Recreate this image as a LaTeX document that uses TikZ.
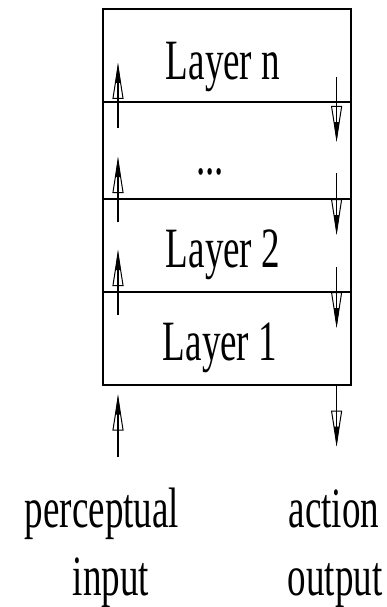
\documentclass[tikz,border=0pt]{standalone}
\usepackage{fontspec}
\setmainfont{Liberation Serif}
\usetikzlibrary{arrows.meta,calc}
\newcommand{\narrowtxt}[1]{\scalebox{0.65}[1]{#1}}
\begin{document}
\begin{tikzpicture}[x=1pt,y=-1pt,
  layerbox/.style={draw,line width=1.6pt,minimum width=248pt,inner sep=0pt,anchor=north west},
  lbl/.style={font=\fontsize{57}{60}\selectfont,inner sep=0pt,anchor=base},
  flow/.style={line width=1.2pt,-{Triangle[open,length=36pt,width=11pt,line width=1pt]},
    postaction={draw,line width=1.2pt,-{Triangle[length=20pt,width=5pt]}}}]
\useasboundingbox (0,0) rectangle (387,607);
% layers
\node[layerbox,minimum height=93pt] (ln) at (102,8) {};
\node[layerbox,minimum height=97pt] (dt) at (102,101) {};
\node[layerbox,minimum height=93pt] (l2) at (102,198) {};
\node[layerbox,minimum height=93pt] (l1) at (102,291) {};
% labels
\node[lbl] (tn) at (223,80) {\narrowtxt{Layer n}};
\node[lbl] (td) at (210,174) {\narrowtxt{...}};
\node[lbl] (t2) at (223,267) {\narrowtxt{Layer 2}};
\node[lbl] (t1) at (220,360) {\narrowtxt{Layer 1}};
\node[lbl] (perc) at (102,527) {\narrowtxt{perceptual}};
\node[lbl] (inp) at (111,595) {\narrowtxt{input}};
\node[lbl] (act) at (334,527) {\narrowtxt{action}};
\node[lbl] (outp) at (335,595) {\narrowtxt{output}};
% upward arrows (left)
\draw[flow] ($(l1.south west)+(16,71)$) -- ($(l1.south west)+(16,9)$);
\draw[flow] ($(l1.north west)+(16,24)$) -- ($(l1.north west)+(16,-41)$);
\draw[flow] ($(l2.north west)+(16,24)$) -- ($(l2.north west)+(16,-41)$);
\draw[flow] ($(dt.north west)+(16,27)$) -- ($(dt.north west)+(16,-38)$);
% downward arrows (right)
\draw[flow] ($(dt.north east)+(-15,-24)$) -- ($(dt.north east)+(-15,41)$);
\draw[flow] ($(l2.north east)+(-15,-25)$) -- ($(l2.north east)+(-15,37)$);
\draw[flow] ($(l1.north east)+(-15,-24)$) -- ($(l1.north east)+(-15,37)$);
\draw[flow] ($(l1.south east)+(-15,0)$) -- ($(l1.south east)+(-15,61)$);
\end{tikzpicture}
\end{document}
